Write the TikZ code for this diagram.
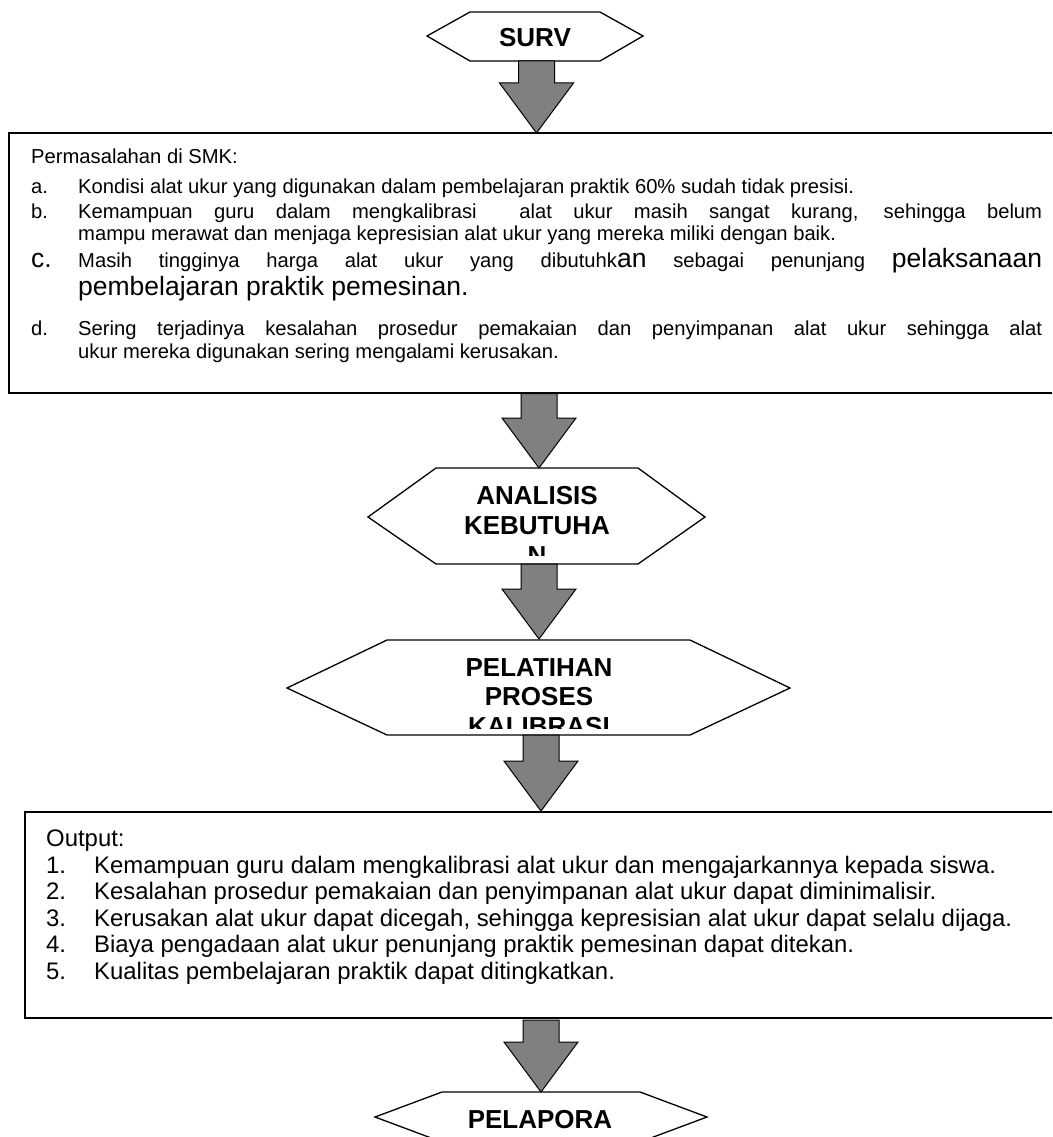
\documentclass[tikz,border=0pt]{standalone}
\usepackage{fontspec}
\setmainfont{Liberation Sans}
\usetikzlibrary{calc}
\newcommand\mybody{\fontsize{20.2}{24}\selectfont}
\newcommand\myout{\fontsize{23.9}{28}\selectfont}
\newcommand\mybig{\fontsize{26.5}{30}\selectfont}
\newcommand\mytitle{\fontsize{26}{30}\selectfont\bfseries}
\newcommand\blockarrow[2]{%
  \draw[barrow] let \p1=(#1), \p2=(#2) in
    (\x2-18pt,\y1) -- (\x2+18pt,\y1) -- (\x2+18pt,\y2+50pt) -- (\x2+37pt,\y2+50pt)
    -- (\x2,\y2) -- (\x2-37pt,\y2+50pt) -- (\x2-18pt,\y2+50pt) -- cycle;}
\tikzset{
  barrow/.style={draw=black, line width=1pt, fill=arrowgray, line join=miter},
  hexline/.style={draw=black, line width=1.3pt, fill=white},
  boxline/.style={draw=black, line width=2pt},
  txt/.style={anchor=base west, inner sep=0pt, font=\mybody},
  otxt/.style={anchor=base west, inner sep=0pt, font=\myout},
  ttl/.style={anchor=base, inner sep=0pt, font=\mytitle},
}
\definecolor{arrowgray}{RGB}{128,128,128}
\begin{document}
\begin{tikzpicture}[x=1pt,y=-1pt]
\useasboundingbox (0,0) rectangle (1052,1137);
\clip (0,0) rectangle (1052,1137);
\fill[white] (0,0) rectangle (1052,1137);

% ---------- SURV ----------
\draw[hexline] (427,36) -- (470,12) -- (600,12) -- (643,36) -- (600,61) -- (470,61) -- cycle;
\node[ttl] (surv) at (535,47) {SURV};
\coordinate (survb) at (536.5,61);

% ---------- Box 1 ----------
\draw[boxline] (9,133) rectangle (1075,393);
\coordinate (box1t) at (536.5,133);
\coordinate (box1b) at (539,393.5);
\node[txt] (p0) at (31,163) {Permasalahan di SMK:};
\node[txt] (pa) at (31,193) {a.};
\node[txt] (pat) at (78,193) {Kondisi alat ukur yang digunakan dalam pembelajaran praktik 60\% sudah tidak presisi.};
\node[txt] (pb) at (31,218) {b.};
\node[txt] (pbt) at (78,218) {\makebox[964pt][s]{Kemampuan guru dalam mengkalibrasi\ \ alat ukur masih sangat kurang, sehingga belum}};
\node[txt] (pbt2) at (78,240) {mampu merawat dan menjaga kepresisian alat ukur yang mereka miliki dengan baik.};
\node[txt] (pc) at (31,267) {{\mybig c.}};
\node[txt] (pct) at (78,267) {\makebox[964pt][s]{Masih tingginya harga alat ukur yang dibutuhk{\mybig an} sebagai penunjang {\mybig pelaksanaan}}};
\node[txt] (pct2) at (78,295) {{\mybig pembelajaran praktik pemesinan.}};
\node[txt] (pd) at (31,335) {d.};
\node[txt] (pdt) at (78,335) {\makebox[964pt][s]{Sering terjadinya kesalahan prosedur pemakaian dan penyimpanan alat ukur sehingga alat}};
\node[txt] (pdt2) at (78,358) {ukur mereka digunakan sering mengalami kerusakan.};

% ---------- ANALISIS ----------
\draw[hexline] (368,517) -- (436,468) -- (638,468) -- (705,517) -- (638,564) -- (436,564) -- cycle;
\coordinate (analt) at (539,468);
\coordinate (analb) at (539,564);
\begin{scope}
\clip (370,470) rectangle (703,555);
\node[ttl] (an1) at (537,504) {ANALISIS};
\node[ttl] (an2) at (537,534) {KEBUTUHA};
\node[ttl] (an3) at (537,564) {N};
\end{scope}

% ---------- PELATIHAN ----------
\draw[hexline] (287,688) -- (387,640) -- (690,640) -- (790,688) -- (690,735) -- (387,735) -- cycle;
\coordinate (pelt) at (539,639);
\coordinate (pelb) at (541,735);
\begin{scope}
\clip (290,642) rectangle (788,728);
\node[ttl] (pl1) at (539,676) {PELATIHAN};
\node[ttl] (pl2) at (539,705) {PROSES};
\node[ttl] (pl3) at (539,735) {KALIBRASI};
\end{scope}

% ---------- Box 2 ----------
\draw[boxline] (25,812) rectangle (1075,1018);
\coordinate (box2t) at (541,811);
\coordinate (box2b) at (541,1020);
\node[otxt] (o0) at (46,846) {Output:};
\node[otxt] (o1) at (46,873) {1.};
\node[otxt] (o1t) at (94,873) {Kemampuan guru dalam mengkalibrasi alat ukur dan mengajarkannya kepada siswa.};
\node[otxt] (o2) at (46,899.5) {2.};
\node[otxt] (o2t) at (94,899.5) {Kesalahan prosedur pemakaian dan penyimpanan alat ukur dapat diminimalisir.};
\node[otxt] (o3) at (46,926) {3.};
\node[otxt] (o3t) at (94,926) {Kerusakan alat ukur dapat dicegah, sehingga kepresisian alat ukur dapat selalu dijaga.};
\node[otxt] (o4) at (46,952.5) {4.};
\node[otxt] (o4t) at (94,952.5) {Biaya pengadaan alat ukur penunjang praktik pemesinan dapat ditekan.};
\node[otxt] (o5) at (46,979) {5.};
\node[otxt] (o5t) at (94,979) {Kualitas pembelajaran praktik dapat ditingkatkan.};

% ---------- PELAPORA ----------
\draw[hexline] (375,1117) -- (442,1092) -- (640,1092) -- (707,1117) -- (640,1142) -- (442,1142) -- cycle;
\coordinate (lapt) at (541,1092);
\node[ttl] (lap) at (540,1128) {PELAPORA};

% ---------- arrows ----------
\blockarrow{survb}{box1t}
\blockarrow{box1b}{analt}
\blockarrow{analb}{pelt}
\blockarrow{pelb}{box2t}
\blockarrow{box2b}{lapt}
\end{tikzpicture}
\end{document}
